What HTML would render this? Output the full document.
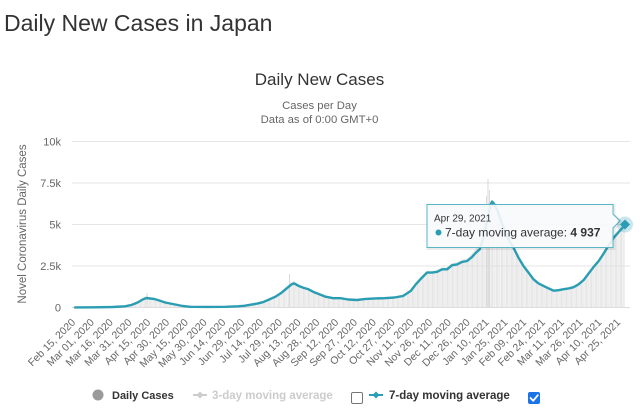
<!DOCTYPE html>
<html>
<head>
<meta charset="utf-8">
<style>
  html,body{margin:0;padding:0;background:#fff;}
  body{width:641px;height:410px;overflow:hidden;position:relative;font-family:"Liberation Sans",Arial,sans-serif;}
  svg{position:absolute;left:0;top:0;}
  text{font-family:"Liberation Sans",Arial,sans-serif;}
</style>
</head>
<body>
<svg width="641" height="410" viewBox="0 0 641 410" xmlns="http://www.w3.org/2000/svg">
  <defs>
    <pattern id="bars" x="75" y="0" width="1.2528" height="410" patternUnits="userSpaceOnUse">
      <rect x="0" y="0" width="0.75" height="410" fill="#dcdcdc"/>
    </pattern>
  </defs>

  <!-- Page title -->
  <text x="4" y="31" font-size="23" fill="#333">Daily New Cases in Japan</text>

  <!-- Chart title / subtitle -->
  <text x="319.5" y="85" font-size="17" fill="#333" text-anchor="middle">Daily New Cases</text>
  <text x="319.5" y="109" font-size="11.3" fill="#666" text-anchor="middle">Cases per Day</text>
  <text x="319.5" y="123" font-size="11.3" fill="#666" text-anchor="middle">Data as of 0:00 GMT+0</text>

  <!-- Grid lines -->
  <g stroke="#e6e6e6" stroke-width="1">
    <line x1="72" y1="141.5" x2="630" y2="141.5"/>
    <line x1="72" y1="183" x2="630" y2="183"/>
    <line x1="72" y1="224.5" x2="630" y2="224.5"/>
    <line x1="72" y1="266" x2="630" y2="266"/>
  </g>
  <line x1="72" y1="307.5" x2="630" y2="307.5" stroke="#dcdcdc" stroke-width="1"/>

  <!-- Y axis labels -->
  <g font-size="11" fill="#666" text-anchor="end">
    <text x="61" y="145.5">10k</text>
    <text x="61" y="187">7.5k</text>
    <text x="61" y="228.5">5k</text>
    <text x="61" y="270">2.5k</text>
    <text x="61" y="311.5">0</text>
  </g>
  <text transform="translate(26,224) rotate(-90)" font-size="11.5" fill="#666" text-anchor="middle">Novel Coronavirus Daily Cases</text>

  <!-- Daily cases bars (area approximation) -->
  <polygon fill="url(#bars)" opacity="0.9" points="75.0,307.4 93.8,307.3 112.6,307.0 125.1,306.3 131.4,305.0 137.6,302.0 142.7,298.5 146.4,296.5 150.2,297.5 153.9,298.4 158.9,300.0 165.2,302.5 170.2,303.5 175.2,304.5 182.7,306.0 190.3,306.8 206.5,306.9 225.3,306.8 237.9,306.3 244.1,305.5 256.7,303.2 262.9,301.5 269.2,298.5 275.4,295.5 281.7,291.0 288.0,285.0 291.7,281.5 294.2,281.0 298.0,284.0 303.0,286.5 308.0,288.5 313.0,291.0 319.3,293.8 325.6,296.5 333.1,298.0 340.6,298.0 348.1,299.3 356.9,299.8 365.6,298.6 375.7,298.0 384.4,297.8 394.5,297.0 403.2,295.0 410.8,289.5 415.8,282.5 422.0,275.5 427.0,270.5 432.0,271.0 437.1,270.0 442.1,267.5 447.1,267.0 452.1,263.0 457.1,262.0 462.1,259.5 467.1,258.5 472.1,253.0 475.9,248.0 479.7,243.0 483.4,225.0 487.2,205.0 490.9,200.0 492.2,200.5 494.7,203.0 498.4,211.0 503.5,226.5 508.5,238.5 513.5,247.0 518.5,257.0 523.5,265.5 528.5,272.0 533.5,279.0 538.5,283.0 543.5,285.5 548.6,288.0 553.6,290.2 558.6,289.8 563.6,288.6 568.6,287.8 573.6,286.5 578.6,283.5 583.6,279.0 588.6,272.0 593.7,265.0 598.7,259.0 603.7,251.0 608.7,243.0 613.7,235.0 618.7,229.0 622.5,224.5 625.0,222.0 625.0,307.5 75.0,307.5"/>
  <!-- notable daily spikes -->
  <g stroke="#dadada" stroke-width="1">
    <line x1="488" y1="307" x2="488" y2="179"/>
    <line x1="486.5" y1="307" x2="486.5" y2="196"/>
    <line x1="489.5" y1="307" x2="489.5" y2="190"/>
    <line x1="289.5" y1="307" x2="289.5" y2="274"/>
    <line x1="147" y1="307" x2="147" y2="293"/>
  </g>

  <!-- 7-day moving average line -->
  <polyline fill="none" stroke="#2a9db2" stroke-width="2.4" stroke-linejoin="round" stroke-linecap="round" points="75.0,307.4 93.8,307.3 112.6,307.0 125.1,306.3 131.4,305.0 137.6,302.5 142.7,299.5 146.4,298.0 150.2,298.5 153.9,298.9 158.9,300.4 165.2,302.5 170.2,303.5 175.2,304.5 182.7,306.0 190.3,306.8 206.5,306.9 225.3,306.8 237.9,306.3 244.1,305.8 256.7,303.7 262.9,302.2 269.2,299.5 275.4,296.7 281.7,292.6 288.0,287.3 291.7,284.3 294.2,283.4 298.0,285.6 303.0,287.6 308.0,289.1 313.0,291.7 319.3,294.2 325.6,296.7 333.1,298.2 340.6,298.2 348.1,299.5 356.9,300.0 365.6,298.9 375.7,298.4 384.4,298.2 394.5,297.5 403.2,295.9 410.8,290.9 415.8,284.3 422.0,277.6 427.0,272.6 432.0,272.6 437.1,271.8 442.1,269.3 447.1,269.3 452.1,265.2 457.1,264.4 462.1,261.9 467.1,261.0 472.1,256.9 475.9,252.7 479.7,249.4 483.4,237.8 487.2,219.5 490.9,203.8 492.2,201.6 494.7,204.6 498.4,212.9 503.5,227.8 508.5,239.4 513.5,247.7 518.5,257.7 523.5,266.0 528.5,272.6 533.5,279.3 538.5,283.4 543.5,285.9 548.6,288.4 553.6,290.7 558.6,290.2 563.6,289.2 568.6,288.4 573.6,287.2 578.6,284.3 583.6,280.1 588.6,273.5 593.7,266.8 598.7,261.0 603.7,253.5 608.7,245.3 613.7,237.8 618.7,232.0 622.5,227.8 625.0,225.5"/>

  <!-- X axis labels -->
  <g font-size="10.5" fill="#666" text-anchor="end">
    <text transform="translate(76,323) rotate(-45)">Feb 15, 2020</text>
    <text transform="translate(94.8,323) rotate(-45)">Mar 01, 2020</text>
    <text transform="translate(113.6,323) rotate(-45)">Mar 16, 2020</text>
    <text transform="translate(132.4,323) rotate(-45)">Mar 31, 2020</text>
    <text transform="translate(151.2,323) rotate(-45)">Apr 15, 2020</text>
    <text transform="translate(170,323) rotate(-45)">Apr 30, 2020</text>
    <text transform="translate(188.8,323) rotate(-45)">May 15, 2020</text>
    <text transform="translate(207.5,323) rotate(-45)">May 30, 2020</text>
    <text transform="translate(226.3,323) rotate(-45)">Jun 14, 2020</text>
    <text transform="translate(245.1,323) rotate(-45)">Jun 29, 2020</text>
    <text transform="translate(263.9,323) rotate(-45)">Jul 14, 2020</text>
    <text transform="translate(282.7,323) rotate(-45)">Jul 29, 2020</text>
    <text transform="translate(301.5,323) rotate(-45)">Aug 13, 2020</text>
    <text transform="translate(320.3,323) rotate(-45)">Aug 28, 2020</text>
    <text transform="translate(339.1,323) rotate(-45)">Sep 12, 2020</text>
    <text transform="translate(357.9,323) rotate(-45)">Sep 27, 2020</text>
    <text transform="translate(376.7,323) rotate(-45)">Oct 12, 2020</text>
    <text transform="translate(395.5,323) rotate(-45)">Oct 27, 2020</text>
    <text transform="translate(414.3,323) rotate(-45)">Nov 11, 2020</text>
    <text transform="translate(433,323) rotate(-45)">Nov 26, 2020</text>
    <text transform="translate(451.8,323) rotate(-45)">Dec 11, 2020</text>
    <text transform="translate(470.6,323) rotate(-45)">Dec 26, 2020</text>
    <text transform="translate(489.4,323) rotate(-45)">Jan 10, 2021</text>
    <text transform="translate(508.2,323) rotate(-45)">Jan 25, 2021</text>
    <text transform="translate(527,323) rotate(-45)">Feb 09, 2021</text>
    <text transform="translate(545.8,323) rotate(-45)">Feb 24, 2021</text>
    <text transform="translate(564.6,323) rotate(-45)">Mar 11, 2021</text>
    <text transform="translate(583.4,323) rotate(-45)">Mar 26, 2021</text>
    <text transform="translate(602.2,323) rotate(-45)">Apr 10, 2021</text>
    <text transform="translate(621,323) rotate(-45)">Apr 25, 2021</text>
  </g>

  <!-- Tooltip -->
  <path d="M428,205.5 H614 V215 L621,222 L614,229 V248.5 H428 Z" fill="none" stroke="#000" stroke-opacity="0.08" stroke-width="3"/>
  <path d="M427,204.5 H613 V214 L620,221 L613,228 V247.5 H427 Z" fill="#f7fafb" fill-opacity="0.9" stroke="#5ab6c6" stroke-width="1"/>
  <text x="434" y="221.5" font-size="10" fill="#333">Apr 29, 2021</text>
  <circle cx="438.5" cy="232.5" r="3" fill="#2a9db2"/>
  <text x="445" y="236.5" font-size="12" fill="#333">7-day moving average: <tspan font-weight="bold">4 937</tspan></text>

  <!-- Hover marker -->
  <circle cx="625" cy="224.5" r="8" fill="#2a9db2" fill-opacity="0.25"/>
  <path d="M625,219.5 L630,224.5 L625,229.5 L620,224.5 Z" fill="#2a9db2"/>

  <!-- Legend -->
  <circle cx="98" cy="395" r="5.5" fill="#9a9a9a"/>
  <text x="112" y="399" font-size="11" font-weight="bold" fill="#333">Daily Cases</text>

  <line x1="193" y1="395" x2="207" y2="395" stroke="#cccccc" stroke-width="2"/>
  <path d="M200,391.5 L203.5,395 L200,398.5 L196.5,395 Z" fill="#cccccc"/>
  <text x="212" y="399" font-size="11.5" font-weight="bold" fill="#cccccc">3-day moving average</text>

  <rect x="351.5" y="392.5" width="11" height="11" rx="1.5" fill="#fff" stroke="#767676" stroke-width="1"/>

  <line x1="369" y1="395" x2="383" y2="395" stroke="#2a9db2" stroke-width="2"/>
  <path d="M376,391.5 L379.5,395 L376,398.5 L372.5,395 Z" fill="#2a9db2"/>
  <text x="389" y="399" font-size="11.5" font-weight="bold" fill="#333">7-day moving average</text>

  <rect x="528" y="392" width="12" height="12" rx="2" fill="#1a73e8"/>
  <path d="M530.5,398 L533.2,400.8 L537.8,395.2" fill="none" stroke="#fff" stroke-width="1.8" stroke-linecap="round" stroke-linejoin="round"/>
</svg>
</body>
</html>
